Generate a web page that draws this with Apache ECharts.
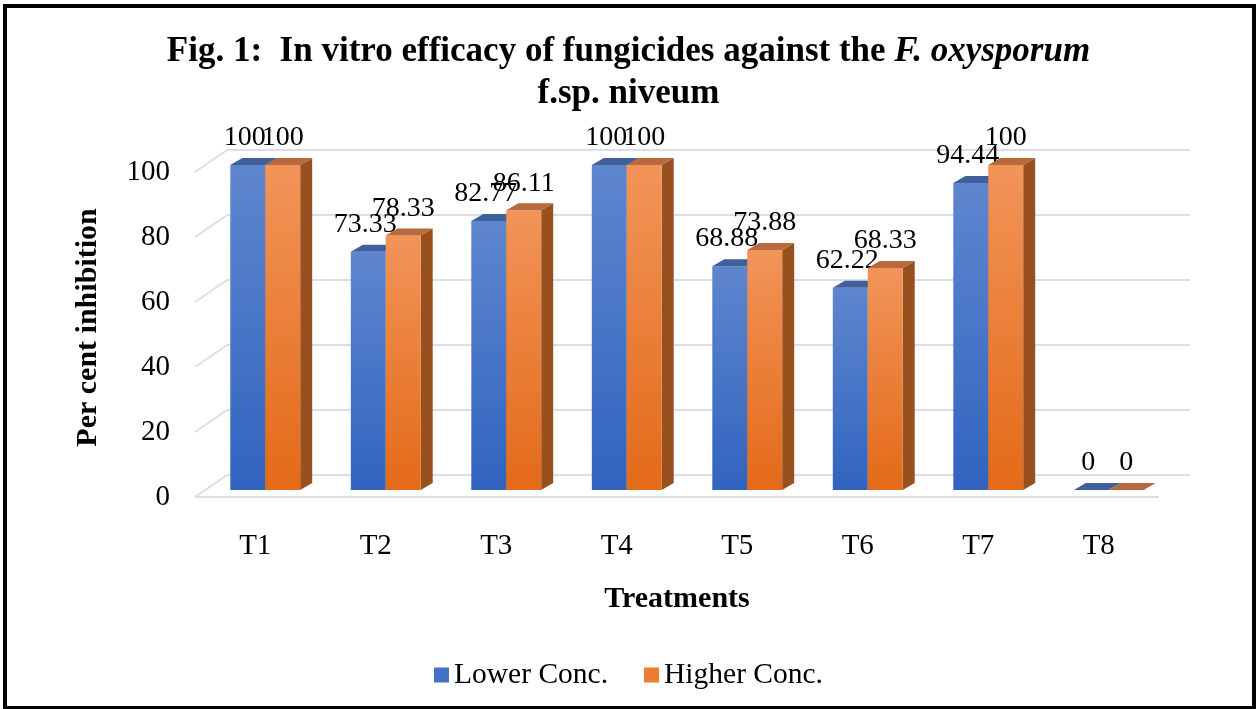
<!DOCTYPE html>
<html>
<head>
<meta charset="utf-8">
<script src="https://cdn.jsdelivr.net/npm/echarts@6/dist/echarts.min.js"></script>
<style>
html,body{margin:0;padding:0;background:#fff;}
#chart{width:1257px;height:709px;}
</style>
</head>
<body>
<div id="chart"></div>
<script>
// ---- data ----
const categories = ['T1', 'T2', 'T3', 'T4', 'T5', 'T6', 'T7', 'T8'];
const lowerConc = [100, 73.33, 82.77, 100, 68.88, 62.22, 94.44, 0];
const higherConc = [100, 78.33, 86.11, 100, 73.88, 68.33, 100, 0];
const yTicks = [0, 20, 40, 60, 80, 100];
const seriesNames = ['Lower Conc.', 'Higher Conc.'];

// ---- styling ----
const FONT = "'Times New Roman', 'Liberation Serif', serif";
const DX = 32, DY = 22;       // wall depth offset
const BDX = 12, BDY = 7;      // bar depth offset
const LIFT = 7;               // bars sit slightly behind front plane
const palettes = [
  { legend: '#4472C4', frontTop: '#5E86CE', frontBot: '#3164BF', side: '#2F4F8A', top: '#40609B' },
  { legend: '#ED7D31', frontTop: '#F29459', frontBot: '#E36A18', side: '#98501F', top: '#B8693D' }
];

const chart = echarts.init(document.getElementById('chart'));

function barRenderer(sIdx) {
  return function (params, api) {
    const i = api.value(0);
    const v = api.value(1);
    const base = api.coord([i, 0]);
    const topP = api.coord([i, v]);
    const band = api.size([1, 0])[0];
    const w = band * 0.29;
    const cx = base[0] + band * 0.083;
    const xl = sIdx === 0 ? cx - w : cx;
    const xr = xl + w;
    const yb = base[1] - LIFT;
    const yt = topP[1] - LIFT;
    const p = palettes[sIdx];
    const children = [];
    if (yb - yt > 0.5) {
      children.push({
        type: 'polygon',
        shape: { points: [[xr, yb], [xr, yt], [xr + BDX, yt - BDY], [xr + BDX, yb - BDY]] },
        style: { fill: p.side }
      });
      children.push({
        type: 'rect',
        shape: { x: xl, y: yt, width: w, height: yb - yt },
        style: {
          fill: new echarts.graphic.LinearGradient(0, 0, 0, 1, [
            { offset: 0, color: p.frontTop }, { offset: 1, color: p.frontBot }
          ])
        }
      });
    }
    children.push({
      type: 'polygon',
      shape: { points: [[xl, yt], [xr, yt], [xr + BDX, yt - BDY], [xl + BDX, yt - BDY]] },
      style: { fill: p.top }
    });
    children.push({
      type: 'text',
      z2: 100,
      style: {
        text: String(v),
        x: (xl + xr) / 2 + (sIdx === 0 ? -3 : 0),
        y: yt - 27,
        align: 'center',
        verticalAlign: 'middle',
        fontSize: 28,
        fontFamily: FONT,
        fill: '#000'
      }
    });
    return { type: 'group', children: children };
  };
}

function wallRenderer(params, api) {
  const v = api.value(1);
  const cs = params.coordSys;
  const y = api.coord([0, v])[1];
  const x = cs.x;
  const lineStyle = { stroke: '#D9DEE8', lineWidth: 2 };
  const children = [{
    type: 'line',
    shape: { x1: x, y1: y, x2: x + DX, y2: y - DY },
    style: lineStyle
  }];
  if (v === 0) {
    children.push({
      type: 'line',
      shape: { x1: x, y1: y, x2: x + cs.width, y2: y },
      style: lineStyle
    });
  }
  return { type: 'group', children: children };
}

const option = {
  animation: false,
  backgroundColor: '#fff',
  title: {
    left: 'center',
    top: 26,
    text: '{b|Fig. 1:  In vitro efficacy of fungicides against the }{bi|F. oxysporum}\n{b|f.sp. niveum}',
    textStyle: {
      rich: {
        b: { fontFamily: FONT, fontWeight: 'bold', fontSize: 35, color: '#000', lineHeight: 42 },
        bi: { fontFamily: FONT, fontWeight: 'bold', fontStyle: 'italic', fontSize: 35, color: '#000', lineHeight: 42 }
      }
    }
  },
  legend: {
    left: 'center',
    top: 655,
    icon: 'rect',
    itemWidth: 15,
    itemHeight: 15,
    itemGap: 36,
    data: seriesNames,
    textStyle: { fontFamily: FONT, fontSize: 29.5, color: '#000' }
  },
  graphic: [{
    type: 'rect',
    shape: { x: 5, y: 6, width: 1249, height: 702 },
    style: { fill: 'none', stroke: '#000', lineWidth: 4 },
    z: 100
  }],
  grid: [
    { left: 195, right: 98, top: 172, bottom: 212 },
    { left: 227, right: 67, top: 150, bottom: 234 }
  ],
  xAxis: [
    {
      type: 'category', gridIndex: 0, data: categories,
      axisLine: { show: false }, axisTick: { show: false },
      axisLabel: { fontFamily: FONT, fontSize: 29, color: '#000', margin: 35 },
      name: 'Treatments', nameLocation: 'middle', nameGap: 87,
      nameTextStyle: { fontFamily: FONT, fontSize: 30, fontWeight: 'bold', color: '#000' }
    },
    {
      type: 'category', gridIndex: 1, data: categories,
      axisLine: { show: false }, axisTick: { show: false }, axisLabel: { show: false }
    }
  ],
  yAxis: [
    {
      type: 'value', gridIndex: 0, min: 0, max: 100, interval: 20,
      axisLine: { show: false }, axisTick: { show: false }, splitLine: { show: false },
      axisLabel: { fontFamily: FONT, fontSize: 29, color: '#000', margin: 25 },
      name: 'Per cent inhibition', nameLocation: 'middle', nameGap: 92,
      nameTextStyle: { fontFamily: FONT, fontSize: 30, fontWeight: 'bold', color: '#000', padding: [0, 0, 0, 14] }
    },
    {
      type: 'value', gridIndex: 1, min: 0, max: 100, interval: 20,
      axisLine: { show: false }, axisTick: { show: false }, axisLabel: { show: false },
      splitLine: { show: true, lineStyle: { color: '#D9DEE8', width: 2 } }
    }
  ],
  series: [
    {
      type: 'custom', name: 'wall', xAxisIndex: 0, yAxisIndex: 0,
      renderItem: wallRenderer,
      data: yTicks.map(v => [0, v]),
      encode: { x: 0, y: 1 },
      silent: true, z: 1
    },
    {
      type: 'custom', name: seriesNames[0], xAxisIndex: 0, yAxisIndex: 0,
      itemStyle: { color: palettes[0].legend },
      renderItem: barRenderer(0),
      data: lowerConc.map((v, i) => [i, v]),
      encode: { x: 0, y: 1 },
      z: 3
    },
    {
      type: 'custom', name: seriesNames[1], xAxisIndex: 0, yAxisIndex: 0,
      itemStyle: { color: palettes[1].legend },
      renderItem: barRenderer(1),
      data: higherConc.map((v, i) => [i, v]),
      encode: { x: 0, y: 1 },
      z: 4
    }
  ]
};
chart.setOption(option);
</script>
</body>
</html>
